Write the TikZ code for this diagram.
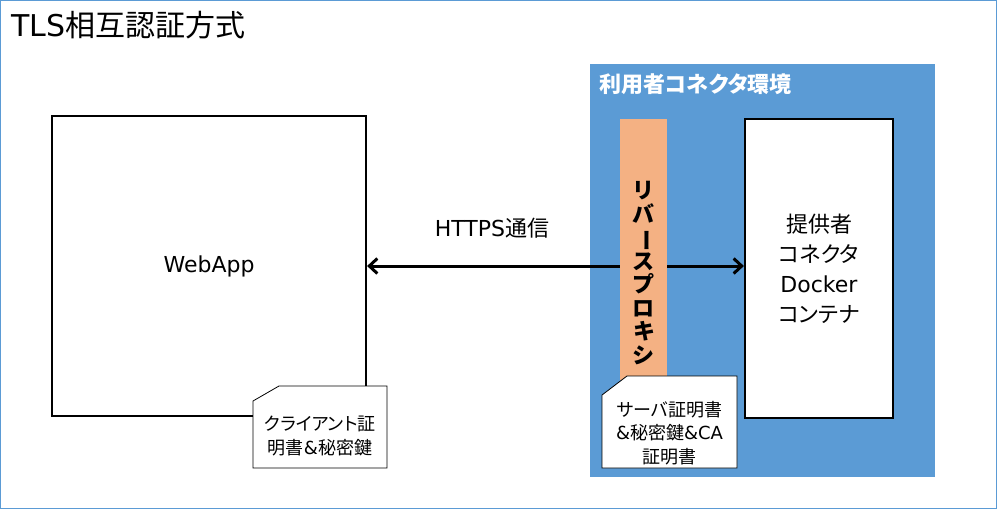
\documentclass[tikz,border=0pt]{standalone}
\usepackage{fontspec}
\usepackage{graphicx}
\setmainfont{Noto Sans CJK JP}[RawFeature=+palt]
\newfontfamily\latin{DejaVu Sans}
\usetikzlibrary{arrows.meta}
\definecolor{envblue}{HTML}{5B9BD5}
\definecolor{proxyorange}{HTML}{F4B183}
\tikzset{
  bigbox/.style={draw, line width=2.2pt, fill=white, inner sep=0pt},
  memo/.style={draw, line width=0.8pt, fill=white},
  memotext/.style={align=center, font=\fontsize{18}{23.5}\selectfont},
  barb/.tip={Straight Barb[length=8pt, width=15pt]},
}
\begin{document}
\begin{tikzpicture}[x=1pt, y=-1pt]
		\useasboundingbox (0,0) rectangle (997,509);
		\draw[envblue, line width=1pt] (0.5,0.5) rectangle (996.5,508.5);
		\node[anchor=base west, font=\fontsize{30}{32}\selectfont] (title) at (8,36) {{\latin TLS}相互認証方式};
		% connector environment
		\fill[envblue] (590,64) rectangle (935,477);
		\node[anchor=base west, text=white, font=\bfseries\fontsize{22}{24}\selectfont] (envtitle) at (596,92) {利用者コネクタ環境};
		\node[bigbox, minimum width=314pt, minimum height=300pt, font=\latin\fontsize{22}{24}\selectfont] (webapp) at (209,266) {WebApp};
		\node[bigbox, minimum width=148pt, minimum height=299pt, align=center, font=\fontsize{22}{30}\selectfont] (docker) at (819,268.5) {提供者\\コネクタ\\{\latin Docker}\\コンテナ};
		\draw[line width=3pt, barb-barb] (webapp.east) -- (docker.west |- webapp.east);
		\node[anchor=base, font=\fontsize{22}{24}\selectfont] (https) at (492,236) {{\latin HTTPS}通信};
		% reverse proxy
		\node[fill=proxyorange, minimum width=47pt, minimum height=261pt, inner sep=0pt] (proxy) at (643.5,249.5) {};
		\node[align=center, font=\bfseries\fontsize{22}{23.5}\selectfont] (proxylabel) at (643.5,273) {リ\\バ\\\rotatebox[origin=c]{-90}{ー}\\ス\\プ\\ロ\\キ\\シ};
		% certificates
		\draw[memo] (253,401) -- (279,386) -- (387,386) -- (387,468) -- (253,468) -- cycle;
		\node[memotext] (clientcert) at (320,436) {クライアント証\\明書{\latin\&}秘密鍵};
		\draw[memo] (602,395) -- (627,376) -- (737,376) -- (737,468) -- (602,468) -- cycle;
		\node[memotext] (servercert) at (669.5,433) {サーバ証明書\\{\latin\&}秘密鍵{\latin\&CA}\\証明書};
\end{tikzpicture}
\end{document}
